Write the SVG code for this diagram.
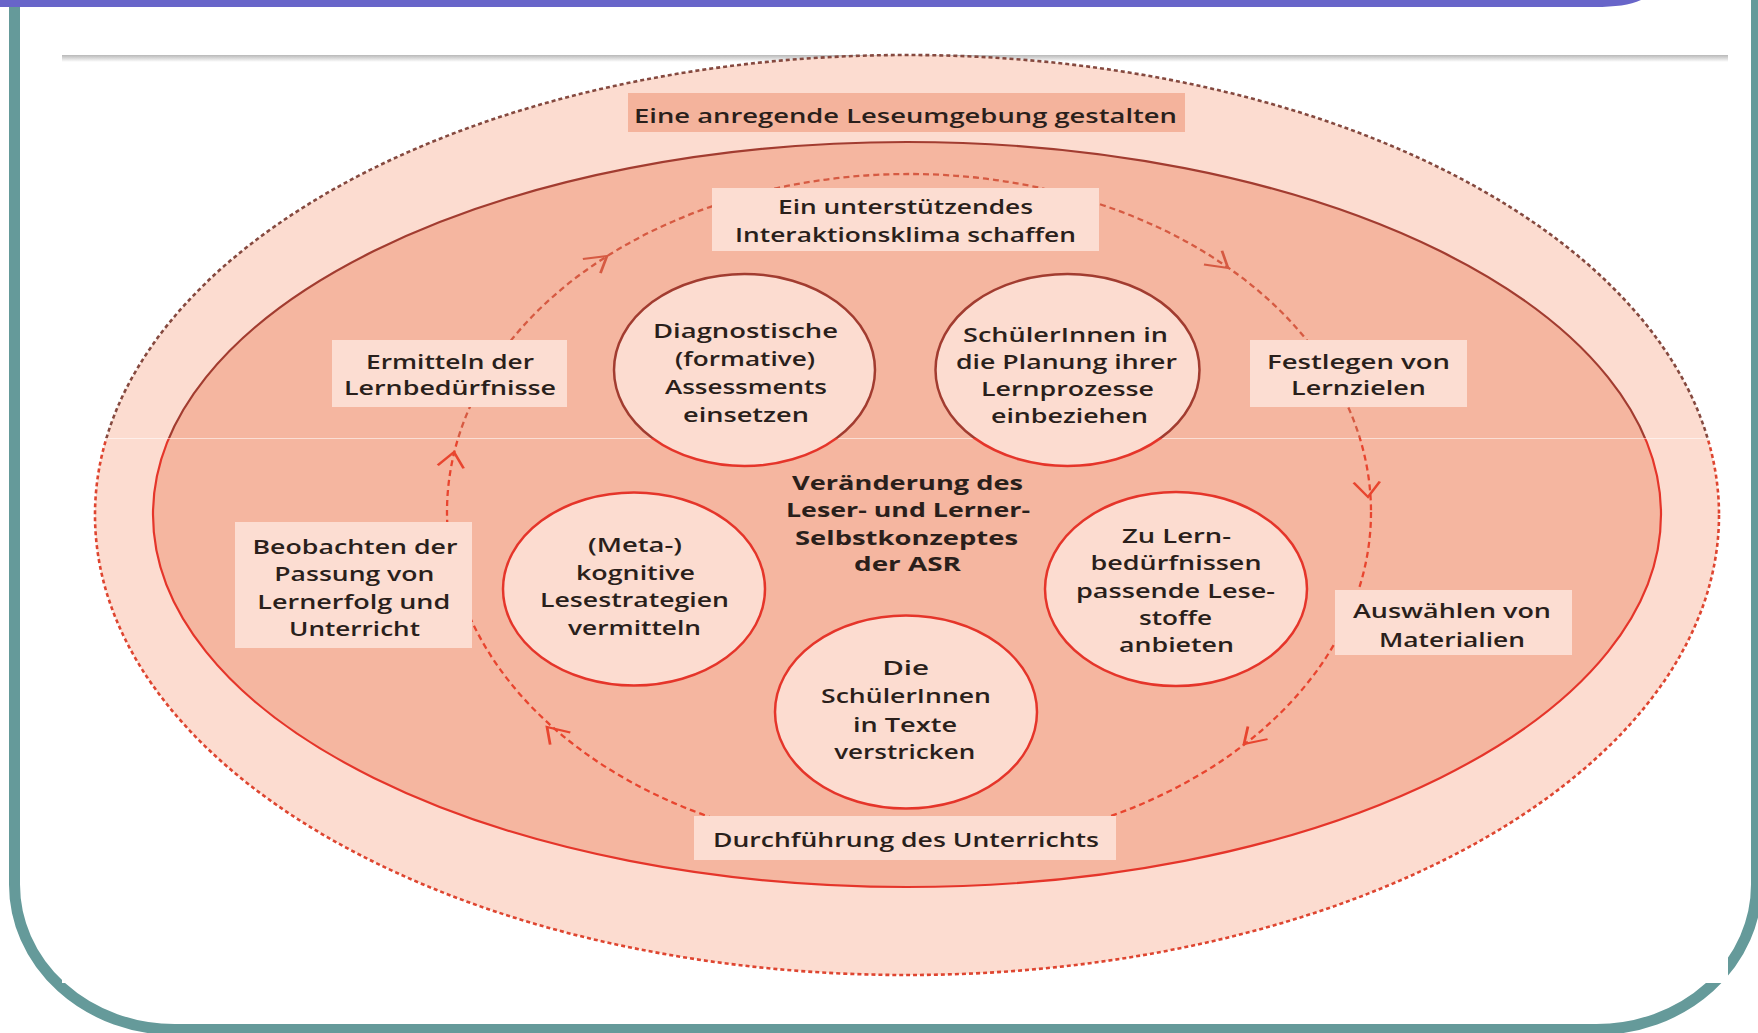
<svg xmlns="http://www.w3.org/2000/svg" xmlns:xlink="http://www.w3.org/1999/xlink" width="1758" height="1033" viewBox="0 0 1758 1033">
<defs>
<style>
.t{font-family:"Open Sans","Liberation Sans",sans-serif;font-size:20px;font-weight:600;fill:#2a1f1b;text-anchor:middle}
.b{font-weight:700}
.box{fill:#fcddd2}
.circ{fill:#fcdcd0;stroke:url(#gCirc);stroke-width:2.5}
.arr{fill:none;stroke-width:2}
</style>
<linearGradient id="gCirc" gradientUnits="userSpaceOnUse" x1="0" y1="0" x2="0" y2="1033">
<stop offset="0.424" stop-color="#a23c30"/><stop offset="0.424" stop-color="#e5352a"/>
</linearGradient>
<linearGradient id="gOuter" gradientUnits="userSpaceOnUse" x1="0" y1="0" x2="0" y2="1033">
<stop offset="0.424" stop-color="#85493f"/><stop offset="0.424" stop-color="#de4530"/>
</linearGradient>
<linearGradient id="gConn" gradientUnits="userSpaceOnUse" x1="0" y1="0" x2="0" y2="1033">
<stop offset="0.424" stop-color="#d65a42"/><stop offset="0.424" stop-color="#e8452f"/>
</linearGradient>
<linearGradient id="gLine" x1="0" y1="0" x2="0" y2="1">
<stop offset="0" stop-color="#b8b8b8"/><stop offset="1" stop-color="#ffffff"/>
</linearGradient>
<path id="chev" d="M-15,-9.5 L0,0 L-15,9.5"/>
</defs>

<!-- frame -->
<g id="frame">
<rect x="0" y="0" width="1758" height="1033" fill="#ffffff"/>
<rect x="14.5" y="-300" width="1742" height="1329.5" rx="160" ry="145" fill="none" stroke="#659a9a" stroke-width="11"/>
<rect x="62" y="12" width="1666" height="971" fill="#ffffff"/>
<path d="M0,0 H1641 C1630,5 1615,7 1595,7 H0 Z" fill="#6865c9"/>
<rect x="62" y="55" width="1666" height="7" fill="url(#gLine)"/>
</g>

<!-- outer environment ellipse -->
<g id="environment">
<ellipse cx="907" cy="515" rx="812" ry="460" fill="#fcdcd0" stroke="url(#gOuter)" stroke-width="2.6" stroke-dasharray="4 3"/>
<rect x="628" y="93" width="557" height="39" fill="#f4b39c"/>
<text class="t" x="905.5" y="123" textLength="543" lengthAdjust="spacingAndGlyphs">Eine anregende Leseumgebung gestalten</text>
</g>

<!-- inner ellipse -->
<g id="core">
<ellipse cx="907" cy="514.5" rx="754" ry="372.5" fill="#f5b6a0" stroke="url(#gCirc)" stroke-width="2.2"/>
<line x1="96" y1="438.5" x2="1718" y2="438.5" stroke="#ffffff" stroke-opacity="0.55" stroke-width="1"/>
</g>

<!-- connectors -->
<g id="connectors" fill="none">
<ellipse cx="909" cy="512" rx="462" ry="338" stroke="url(#gConn)" stroke-width="2.3" stroke-dasharray="6 4"/>
<g class="arr">
<use xlink:href="#chev" href="#chev" stroke="#d65a42" transform="translate(607,256) scale(1.38,1) rotate(-42.2)"/>
<use xlink:href="#chev" href="#chev" stroke="#d65a42" transform="translate(1228,268) scale(1.38,1) rotate(43.4)"/>
<use xlink:href="#chev" href="#chev" stroke="#e8452f" transform="translate(1368,497) scale(1.38,1) rotate(86.5)"/>
<use xlink:href="#chev" href="#chev" stroke="#e8452f" transform="translate(1244,744) scale(1.38,1) rotate(131.6)"/>
<use xlink:href="#chev" href="#chev" stroke="#e8452f" transform="translate(547,727) scale(1.38,1) rotate(-129.8)"/>
<use xlink:href="#chev" href="#chev" stroke="#e8452f" transform="translate(454,452) scale(1.38,1) rotate(-80.8)"/>
</g>
</g>

<!-- step boxes -->
<g id="klima">
<rect class="box" x="712" y="188" width="387" height="63"/>
<text class="t" x="905.5" y="214" textLength="255" lengthAdjust="spacingAndGlyphs">Ein unterstützendes</text>
<text class="t" x="905.5" y="242" textLength="341" lengthAdjust="spacingAndGlyphs">Interaktionsklima schaffen</text>
</g>
<g id="ermitteln">
<rect class="box" x="332" y="340" width="235" height="67"/>
<text class="t" x="450" y="369" textLength="168" lengthAdjust="spacingAndGlyphs">Ermitteln der</text>
<text class="t" x="450" y="395" textLength="212" lengthAdjust="spacingAndGlyphs">Lernbedürfnisse</text>
</g>
<g id="festlegen">
<rect class="box" x="1250" y="340" width="217" height="67"/>
<text class="t" x="1358.5" y="369" textLength="183" lengthAdjust="spacingAndGlyphs">Festlegen von</text>
<text class="t" x="1358.5" y="395" textLength="135" lengthAdjust="spacingAndGlyphs">Lernzielen</text>
</g>
<g id="beobachten">
<rect class="box" x="235" y="522" width="237" height="126"/>
<text class="t" x="355" y="554" textLength="205" lengthAdjust="spacingAndGlyphs">Beobachten der</text>
<text class="t" x="354.3" y="581" textLength="160" lengthAdjust="spacingAndGlyphs">Passung von</text>
<text class="t" x="353.8" y="609" textLength="193" lengthAdjust="spacingAndGlyphs">Lernerfolg und</text>
<text class="t" x="354.5" y="636" textLength="131" lengthAdjust="spacingAndGlyphs">Unterricht</text>
</g>
<g id="auswaehlen">
<rect class="box" x="1335" y="590" width="237" height="65"/>
<text class="t" x="1452" y="618" textLength="198" lengthAdjust="spacingAndGlyphs">Auswählen von</text>
<text class="t" x="1452" y="647" textLength="146" lengthAdjust="spacingAndGlyphs">Materialien</text>
</g>
<g id="durchfuehrung">
<rect class="box" x="694" y="816" width="422" height="44"/>
<text class="t" x="906" y="847" textLength="386" lengthAdjust="spacingAndGlyphs">Durchführung des Unterrichts</text>
</g>

<!-- circles -->
<g id="diagnostische">
<ellipse class="circ" cx="744.5" cy="370" rx="130.5" ry="96"/>
<text class="t" x="745.5" y="338" textLength="185" lengthAdjust="spacingAndGlyphs">Diagnostische</text>
<text class="t" x="745" y="366" textLength="140" lengthAdjust="spacingAndGlyphs">(formative)</text>
<text class="t" x="746" y="394" textLength="162" lengthAdjust="spacingAndGlyphs">Assessments</text>
<text class="t" x="746" y="422" textLength="126" lengthAdjust="spacingAndGlyphs">einsetzen</text>
</g>
<g id="planung">
<ellipse class="circ" cx="1067.5" cy="370" rx="132" ry="96"/>
<text class="t" x="1065.5" y="342" textLength="205" lengthAdjust="spacingAndGlyphs">SchülerInnen in</text>
<text class="t" x="1066.5" y="369" textLength="221" lengthAdjust="spacingAndGlyphs">die Planung ihrer</text>
<text class="t" x="1067.5" y="396" textLength="173" lengthAdjust="spacingAndGlyphs">Lernprozesse</text>
<text class="t" x="1069.5" y="423" textLength="157" lengthAdjust="spacingAndGlyphs">einbeziehen</text>
</g>
<g id="meta">
<ellipse class="circ" cx="634" cy="589" rx="131" ry="96.5"/>
<text class="t" x="635" y="552" textLength="94" lengthAdjust="spacingAndGlyphs">(Meta-)</text>
<text class="t" x="635.5" y="580" textLength="119" lengthAdjust="spacingAndGlyphs">kognitive</text>
<text class="t" x="634.5" y="607" textLength="189" lengthAdjust="spacingAndGlyphs">Lesestrategien</text>
<text class="t" x="634.5" y="635" textLength="133" lengthAdjust="spacingAndGlyphs">vermitteln</text>
</g>
<g id="lesestoffe">
<ellipse class="circ" cx="1176" cy="589" rx="131" ry="97"/>
<text class="t" x="1176.5" y="543" textLength="109" lengthAdjust="spacingAndGlyphs">Zu Lern-</text>
<text class="t" x="1176" y="570" textLength="171" lengthAdjust="spacingAndGlyphs">bedürfnissen</text>
<text class="t" x="1175.5" y="598" textLength="199" lengthAdjust="spacingAndGlyphs">passende Lese-</text>
<text class="t" x="1175.5" y="625" textLength="73" lengthAdjust="spacingAndGlyphs">stoffe</text>
<text class="t" x="1176.5" y="652" textLength="115" lengthAdjust="spacingAndGlyphs">anbieten</text>
</g>
<g id="texte">
<ellipse class="circ" cx="906" cy="712" rx="131" ry="96.5"/>
<text class="t" x="905.7" y="675" textLength="47" lengthAdjust="spacingAndGlyphs">Die</text>
<text class="t" x="906" y="703" textLength="170" lengthAdjust="spacingAndGlyphs">SchülerInnen</text>
<text class="t" x="905" y="732" textLength="104" lengthAdjust="spacingAndGlyphs">in Texte</text>
<text class="t" x="904.7" y="759" textLength="141" lengthAdjust="spacingAndGlyphs">verstricken</text>
</g>

<!-- centre -->
<g id="zentrum">
<text class="t b" x="907.5" y="490" textLength="231" lengthAdjust="spacingAndGlyphs">Veränderung des</text>
<text class="t b" x="908" y="517" textLength="244" lengthAdjust="spacingAndGlyphs">Leser- und Lerner-</text>
<text class="t b" x="906.5" y="545" textLength="223" lengthAdjust="spacingAndGlyphs">Selbstkonzeptes</text>
<text class="t b" x="907.5" y="571" textLength="107" lengthAdjust="spacingAndGlyphs">der ASR</text>
</g>
</svg>
